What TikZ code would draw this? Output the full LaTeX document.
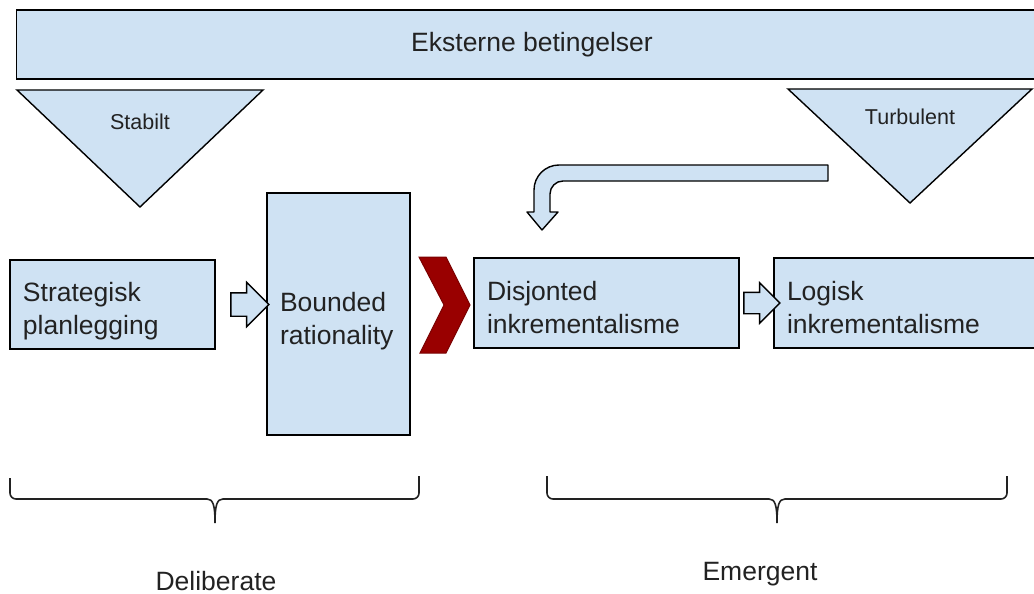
\documentclass[tikz,border=0pt]{standalone}
\usepackage{fontspec}
\setmainfont{Liberation Sans}
\usetikzlibrary{shapes.arrows,calc}
\definecolor{boxblue}{HTML}{CFE2F3}
\definecolor{chevred}{HTML}{990000}
\definecolor{inkgray}{HTML}{222222}
\begin{document}
\begin{tikzpicture}[x=1pt,y=-1pt,
    box/.style={draw=black,line width=1.4pt,fill=boxblue,text=inkgray,
      font=\fontsize{26.5}{33}\selectfont,align=left,inner ysep=0pt,inner xsep=13pt},
    twoline/.style={text height=19pt,text depth=25pt},
    tri/.style={draw=black,line width=1.4pt,fill=boxblue,line join=miter},
    blockarrow/.style={single arrow,draw=black,line width=1.4pt,fill=boxblue,
      inner xsep=0pt,single arrow head indent=0pt},
    small/.style={text=inkgray,font=\fontsize{21.5}{26}\selectfont},
    groupname/.style={text=inkgray,font=\fontsize{26.5}{33}\selectfont,inner sep=0pt},
    bracket/.style={draw=inkgray,line width=1.6pt}]
  \useasboundingbox (0,0) rectangle (1034,594);
  \clip (0,0) rectangle (1034,594);
  \node[box,align=center,minimum width=1031pt,minimum height=69pt]
    (ytre) at (532,44.5) {Eksterne betingelser};
  \draw[tri] (17,90) -- (263,90) -- (140,207) -- cycle;
  \node[small] (stabilt) at (140,122) {Stabilt};
  \draw[tri] (788,89) -- (1032,89) -- (910,203) -- cycle;
  \node[small] (turb) at (910,117) {Turbulent};
  \node[box,twoline,text width=179pt,minimum height=89pt] (strat) at (112.5,304.5)
    {Strategisk\\planlegging};
  \node[box,twoline,text width=117pt,minimum height=242pt] (bounded) at (338.5,314)
    {Bounded\\rationality};
  \node[box,twoline,text width=239pt,minimum height=90pt] (disj) at (606.5,303)
    {Disjonted\\inkrementalisme};
  \node[box,twoline,text width=250pt,minimum height=90pt] (logisk) at (912,303)
    {Logisk\\inkrementalisme};
  \node[blockarrow,inner ysep=11pt,single arrow head extend=10.5pt,
    minimum height=38pt] (pil1) at ($(strat.east)!0.56!(strat.east -| bounded.west)$) {};
  \node[blockarrow,inner ysep=10pt,single arrow head extend=9.5pt,
    minimum height=36pt] (pil2) at ($(disj.east)!0.5!(disj.east -| logisk.west)$) {};
  \draw[fill=chevred,draw=chevred!80!black,line width=1pt,line join=miter]
    (419,257) -- (446,257) -- (470,305) -- (446,353) -- (420,353) -- (444,305) -- cycle;
  \draw[tri,line join=round] (828,165) -- (559,165)
    arc[start angle=90,end angle=180,radius=25pt] -- (534,212) -- (527,212)
    -- (542,230) -- (558,212) -- (550,212) -- (550,194)
    arc[start angle=180,end angle=90,radius=13pt] -- (828,181) -- cycle;
  \draw[bracket] (10,478) -- (10,493) arc[start angle=180,end angle=270,radius=6pt]
    -- (207,499) .. controls (213,499) and (215,505) .. (215,523)
    .. controls (215,505) and (217,499) .. (223,499) -- (413,499)
    arc[start angle=270,end angle=360,radius=6pt] -- (419,476);
  \draw[bracket] (547,476) -- (547,493) arc[start angle=180,end angle=270,radius=6pt]
    -- (769,499) .. controls (775,499) and (777,505) .. (777,523)
    .. controls (777,505) and (779,499) .. (785,499) -- (1001,499)
    arc[start angle=270,end angle=360,radius=6pt] -- (1007,476);
  \node[groupname] (delib) at (216,581) {Deliberate};
  \node[groupname] (emerg) at (760,574) {Emergent};
\end{tikzpicture}
\end{document}
